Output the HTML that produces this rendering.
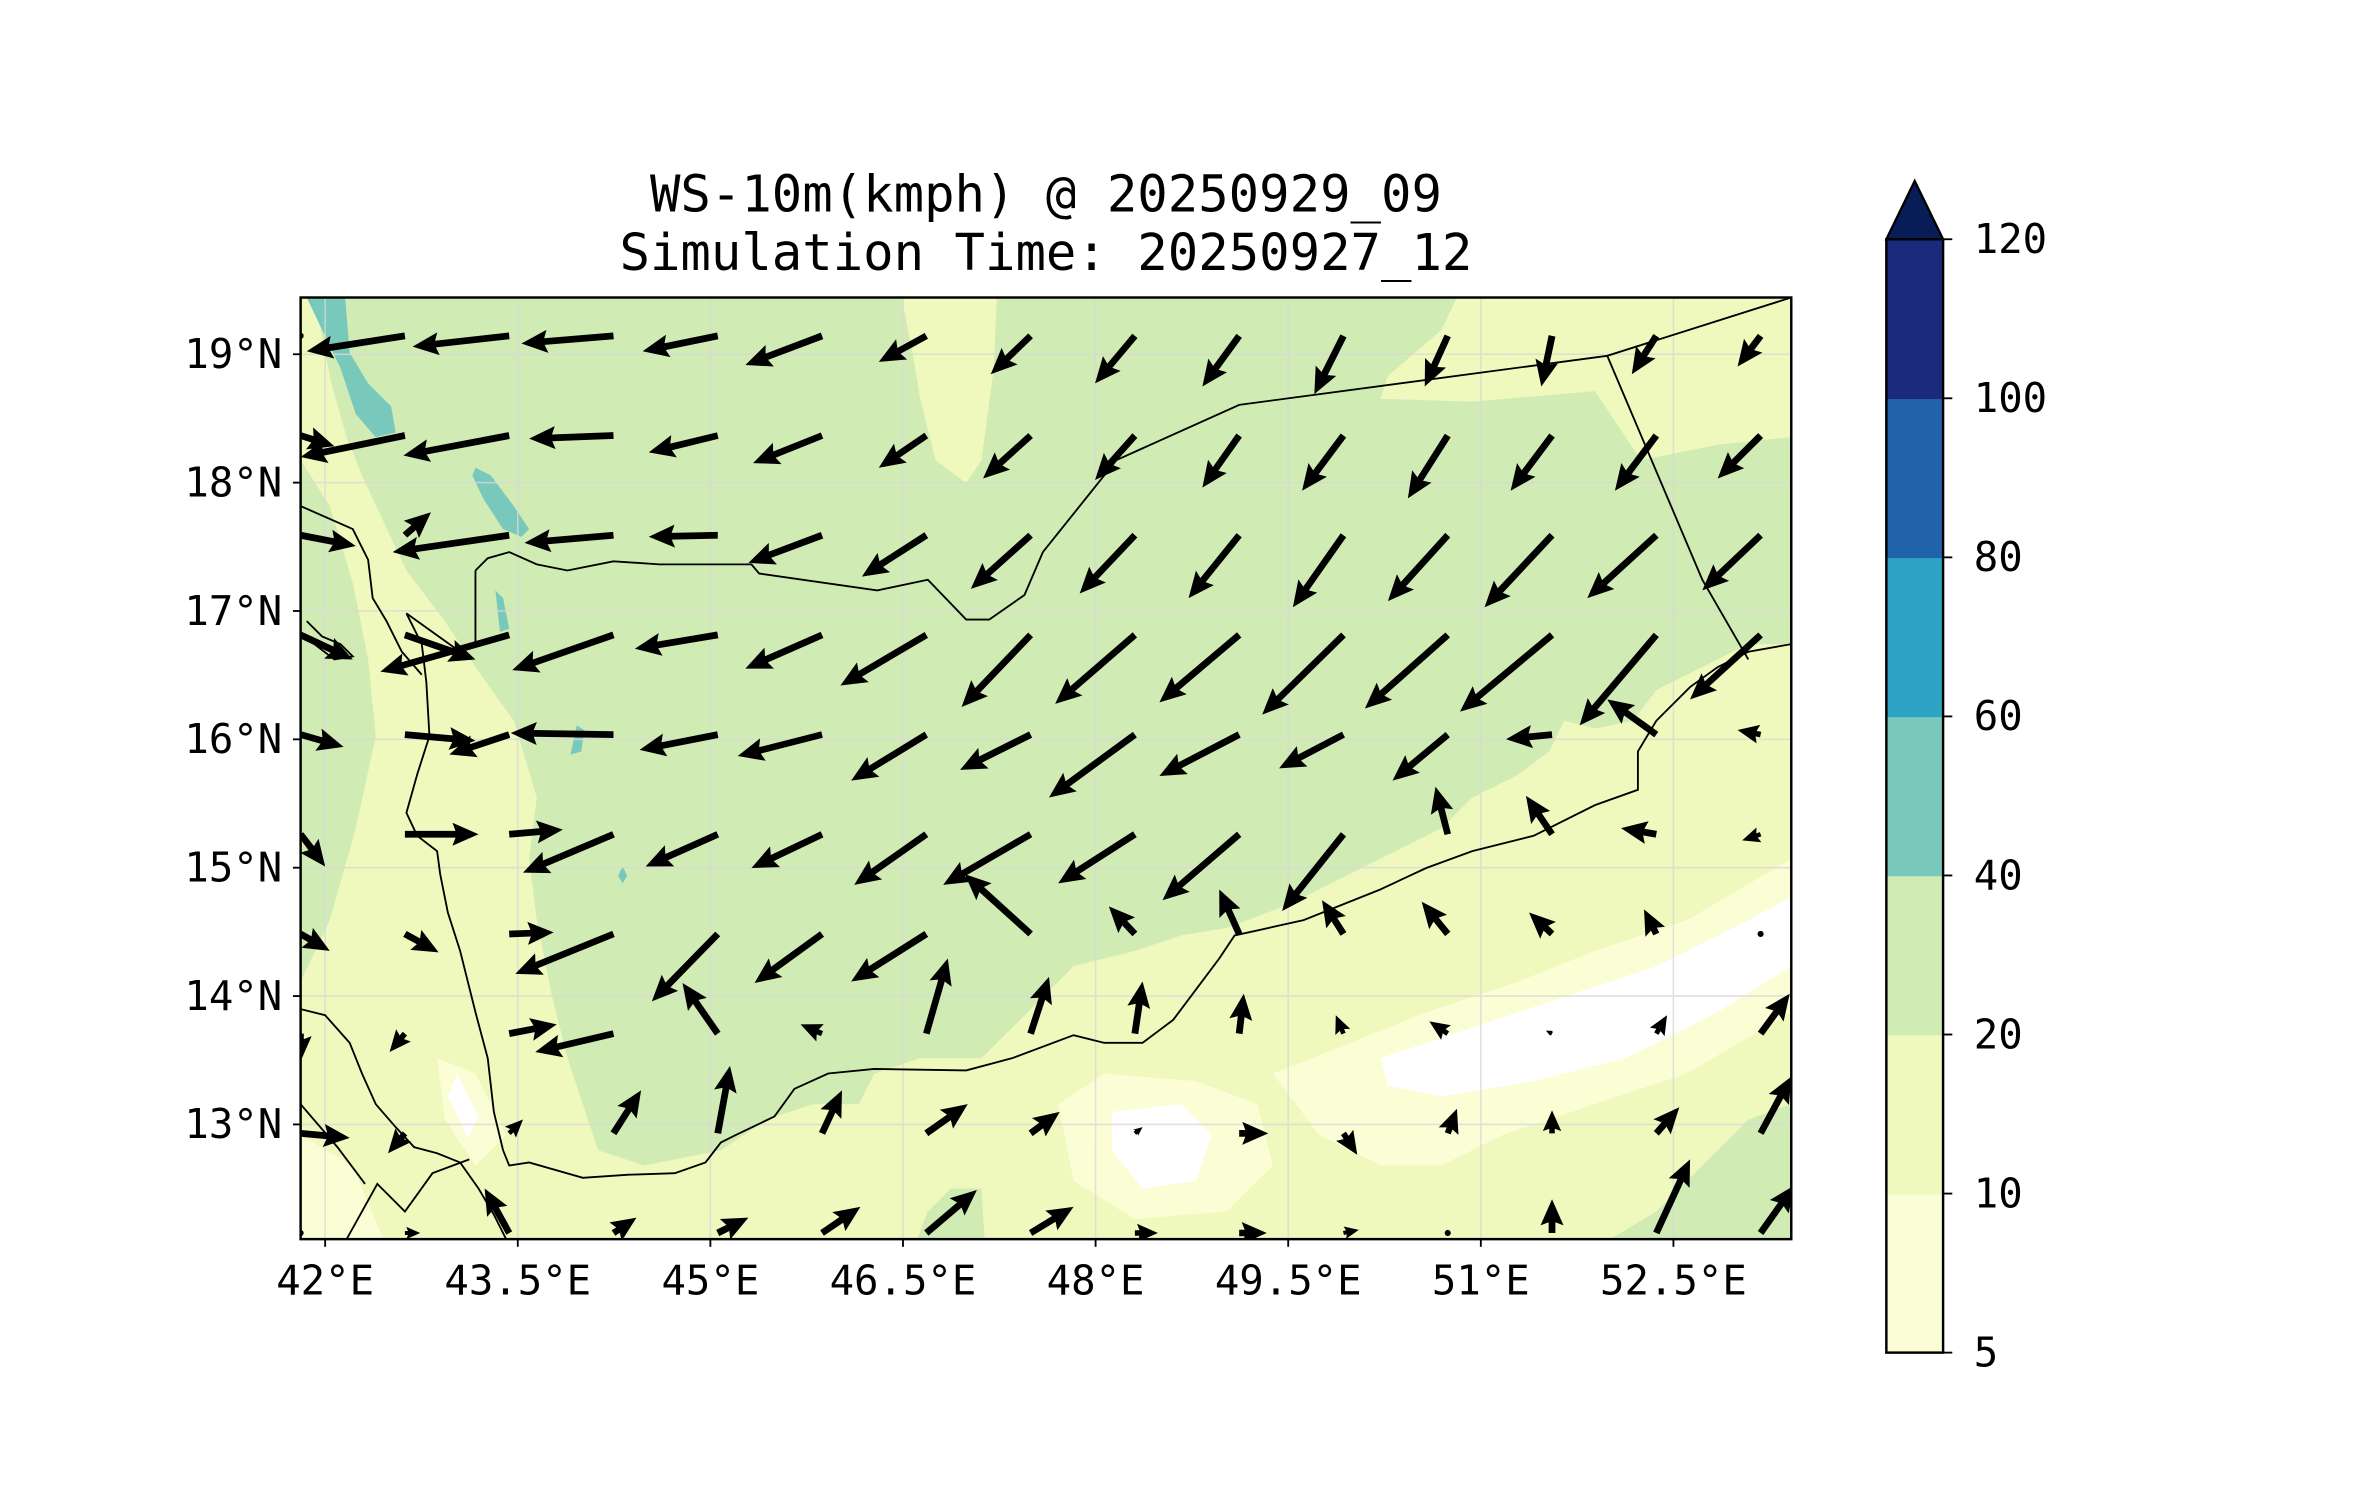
<!DOCTYPE html>
<html><head><meta charset="utf-8"><style>
html,body{margin:0;padding:0;background:#fff;overflow:hidden;}
svg{display:block;}
text{font-family:"DejaVu Sans Mono","Liberation Mono",monospace;fill:#000;}
</style></head><body>
<svg id="chart" xmlns="http://www.w3.org/2000/svg" width="2371" height="1500" viewBox="0 0 1546 978.1">
<defs><clipPath id="pc"><rect x="196" y="194" width="972" height="614"/></clipPath></defs>
<text x="682" y="138" font-size="33" text-anchor="middle">WS-10m(kmph) @ 20250929_09</text>
<text x="682" y="176" font-size="33" text-anchor="middle">Simulation Time: 20250927_12</text>
<g id="plot" clip-path="url(#pc)">
<rect x="196" y="194" width="972" height="614" fill="#eff8bd"/>
<polygon fill="#d1ebb4" points="205,194 950,194 940,215 905,245 900,260 960,262 1040,255 1070,300 1120,290 1168,285 1168,420 1140,420 1100,440 1080,450 1065,470 1040,475 1020,470 1010,490 990,505 960,520 940,540 900,560 870,575 840,590 800,605 770,610 740,620 700,630 680,650 660,670 640,690 600,690 570,700 560,720 530,720 500,730 470,750 420,760 390,750 380,720 370,690 360,650 350,600 345,560 350,520 335,470 310,435 290,405 265,372 250,340 236,310 226,285 216,250"/>
<polygon fill="#d1ebb4" points="196,300 215,330 230,380 240,430 245,480 232,540 215,600 196,640"/>
<polygon fill="#eff8bd" points="588,194 650,194 648,240 640,300 630,315 610,300 600,260 595,230"/>
<polygon fill="#d1ebb4" points="1050,808 1080,790 1110,760 1140,730 1168,720 1168,808"/>
<polygon fill="#d1ebb4" points="598,808 605,790 620,775 640,775 642,808"/>
<polygon fill="#fbfdd5" points="830,700 880,680 930,660 990,640 1040,620 1100,600 1168,560 1168,660 1100,700 1040,720 980,740 940,760 900,760 860,740"/>
<polygon fill="#fbfdd5" points="690,720 720,700 780,705 820,720 830,760 800,790 740,795 700,770"/>
<polygon fill="#fbfdd5" points="196,740 230,760 250,808 196,808"/>
<polygon fill="#fbfdd5" points="285,690 310,700 330,740 310,760 290,730"/>
<polygon fill="#ffffff" points="725,725 770,720 790,740 780,770 745,775 725,750"/>
<polygon fill="#ffffff" points="900,690 960,670 1020,650 1080,630 1140,600 1168,585 1168,630 1120,660 1060,690 1000,705 940,715 905,708"/>
<polygon fill="#ffffff" points="298,700 312,728 305,742 292,715"/>
<polygon fill="#78c8bb" points="200,194 225,194 228,230 240,250 255,265 258,282 245,285 232,270 222,240 210,215"/>
<polygon fill="#78c8bb" points="310,305 320,310 335,330 345,345 340,350 328,345 315,325 308,310"/>
<polygon fill="#78c8bb" points="323,385 328,390 332,410 326,412"/>
<polygon fill="#78c8bb" points="376,473 381,476 379,490 372,492"/>
<polygon fill="#78c8bb" points="406,565 409,571 406,576 403,571"/>
<g id="grid" stroke="#d9d9d9" stroke-width="1" opacity="0.8"></g>
<g fill="none" stroke="#000" stroke-width="1.2">
<polyline points="310,372 318,364 332,360 350,368 370,372 400,366 430,368 490,368 495,374 572,385 605,378 630,404 645,404 668,388 680,360 728,300 808,264 1048,232 1168,194"/>
<polyline points="1048,232 1110,378 1140,430"/>
<polyline points="1168,420 1140,425 1120,435 1102,448 1080,470 1068,490 1068,515 1040,525 1000,545 960,555 930,566 900,580 850,600 805,610 795,625 780,645 765,665 745,680 720,680 700,675 660,690 630,698 570,697 540,700 518,710 505,728 480,740 470,745 460,758 440,765 410,766 380,768 345,758 332,760 328,750"/>
<polyline points="328,750 322,725 318,690 310,660 300,620 292,595 287,570 285,555 272,545 265,530 272,505 280,480 278,445 275,420 265,400 300,425 310,420 310,372"/>
<polyline points="196,330 230,345 240,365 243,390 252,405 262,425 275,440"/>
<polyline points="196,658 212,662 228,680 236,700 245,720 258,735 270,748 285,752 300,758 312,775 322,792 330,808"/>
<polyline points="226,808 246,772 264,790 282,765 306,756"/>
<polyline points="196,720 220,748 238,772"/>
<polyline points="200,405 210,415 222,420 230,428 218,430 205,420"/>
</g>
<g id="arrows" fill="#000"></g>
</g>
<rect x="196" y="194" width="972" height="614" fill="none" stroke="#000" stroke-width="1.6"/>
<g id="axes"></g>
<g id="cbar"></g>
</svg>
<script>
// wind vector grid (arrow components in plot units; u east, v north)
const rowU = [
 [0,-64,-63,-60,-49,-50,-31,-26,-26,-24,-19,-15,-7,-16,-15],
 [22,-68,-69,-55,-45,-45,-31,-31,-26,-24,-27,-26,-27,-27,-28],
 [36,17,-76,-58,-45,-48,-42,-39,-36,-33,-33,-39,-44,-45,-38],
 [34,46,-84,-66,-54,-50,-56,-45,-52,-52,-53,-54,-60,-50,-46],
 [28,46,-39,-67,-51,-55,-49,-46,-56,-52,-42,-36,-30,-32,-15],
 [16,48,35,-59,-47,-46,-47,-57,-50,-50,-40,-8,-17,-23,-12],
 [19,22,29,-64,-43,-44,-49,-43,-17,-13,-14,-17,-15,-8,0],
 [0,-10,31,-51,-23,-14,14,12,5,3,-5,-12,-4,7,19],
 [32,-11,9,18,8,13,27,19,5,19,9,6,0,15,20],
 [0,10,-16,15,20,25,33,28,15,18,10,0,0,22,22]
];
const rowV = [
 [0,-10,-7,-5,-10,-19,-17,-25,-31,-33,-38,-33,-33,-25,-20],
 [-7,-14,-13,-2,-11,-18,-21,-28,-29,-34,-36,-41,-36,-36,-28],
 [-7,15,-11,-5,-1,-18,-27,-35,-38,-41,-47,-43,-47,-41,-36],
 [-16,-16,-24,-23,-9,-22,-33,-47,-45,-44,-52,-48,-50,-59,-42],
 [-8,-4,-13,1,-10,-14,-30,-23,-41,-27,-22,-30,-3,23,3],
 [-21,0,3,-25,-21,-22,-33,-33,-32,-43,-50,31,25,4,-4],
 [-11,-12,1,-26,-44,-32,-31,39,18,29,22,21,14,16,0],
 [-18,-12,6,-12,33,6,49,37,34,26,12,8,2,12,26],
 [-3,-13,9,28,44,28,19,14,4,0,-14,16,15,17,37],
 [0,0,29,10,10,17,28,17,0,0,2,0,22,48,31]
];
const latTicks = [19,18,17,16,15,14,13];
const lonTicks = [42,43.5,45,46.5,48,49.5,51,52.5];
const cbarLevels = [5,10,20,40,60,80,100,120];
const cbarColors = ["#fbfdd5","#eff8bd","#d1ebb4","#78c8bb","#2ea4c4","#2163aa","#1c2a7c"];

const NS="http://www.w3.org/2000/svg";
function xLon(lon){return 212+(lon-42)*83.73;}
function yLat(lat){return 231-(lat-19)*83.7;}
function gx(k){return 196+68*k;}
function gy(j){return 219+65*j;}
function mk(tag,attrs,parent){const e=document.createElementNS(NS,tag);for(const a in attrs)e.setAttribute(a,attrs[a]);parent.appendChild(e);return e;}

const grid=document.getElementById('grid');
lonTicks.forEach(l=>{const ln=mk('line',{x1:xLon(l),x2:xLon(l),y1:194,y2:808},grid);

});
latTicks.forEach(l=>{const ln=mk('line',{x1:196,x2:1168,y1:yLat(l),y2:yLat(l)},grid);

});

const arrows=document.getElementById('arrows');
const hw=2.2, hl=17, hh=7.5, hal=15;
for(let j=0;j<rowU.length;j++){for(let k=0;k<rowU[j].length;k++){
  const u=rowU[j][k], v=rowV[j][k]; const L=Math.hypot(u,v);
  if(L<0.5){const d=mk('circle',{cx:gx(k),cy:gy(j),r:2},arrows);
    
    continue;}
  let s=1; if(L<hl*1.1) s=L/(hl*1.1);
  const a=hw*Math.max(s,0.6), b=hl*s, c=hh*s, e=hal*s;
  const loc=[[0,-a],[L-e,-a],[L-b,-c],[L,0],[L-b,c],[L-e,a],[0,a]];
  const cs=u/L, sn=-v/L, x0=gx(k), y0=gy(j);
  const pts=loc.map(p=>(x0+p[0]*cs-p[1]*sn).toFixed(1)+','+(y0+p[0]*sn+p[1]*cs).toFixed(1)).join(' ');
  const poly=mk('polygon',{points:pts},arrows);
  
  
}}

const axes=document.getElementById('axes');
lonTicks.forEach(l=>{const x=xLon(l);
  const t=mk('line',{x1:x,x2:x,y1:808,y2:813,stroke:'#000','stroke-width':1.2},axes);
  
  
  const tx=mk('text',{x:x,y:844,'font-size':26.5,'text-anchor':'middle'},axes);
  tx.textContent=l+'°E';
  
  });
latTicks.forEach(l=>{const y=yLat(l);
  const t=mk('line',{x1:191,x2:196,y1:y,y2:y,stroke:'#000','stroke-width':1.2},axes);
  
  
  const tx=mk('text',{x:184,y:y+9,'font-size':26.5,'text-anchor':'end'},axes);
  tx.textContent=l+'°N';
  
  });

const cb=document.getElementById('cbar');
const cx0=1230,cx1=1267,cyTop=156,cyBot=882;
const step=(cyBot-cyTop)/(cbarLevels.length-1);
cbarColors.forEach((c,i)=>{const r=mk('rect',{x:cx0,y:cyBot-step*(i+1),width:cx1-cx0,height:step+0.5,fill:c},cb);
  
  });
const tri=mk('polygon',{points:cx0+','+cyTop+' '+((cx0+cx1)/2)+',118 '+cx1+','+cyTop,fill:'#081d58',stroke:'#000','stroke-width':1.5},cb);


const fr=mk('rect',{x:cx0,y:cyTop,width:cx1-cx0,height:cyBot-cyTop,fill:'none',stroke:'#000','stroke-width':1.6},cb);


cbarLevels.forEach((lv,i)=>{const y=cyBot-step*i;
  const t=mk('line',{x1:cx1,x2:cx1+6,y1:y,y2:y,stroke:'#000','stroke-width':1.2},cb);
  
  
  const tx=mk('text',{x:1287,y:y+9,'font-size':26.5},cb);
  tx.textContent=lv;
  
  });
</script>
</body></html>
